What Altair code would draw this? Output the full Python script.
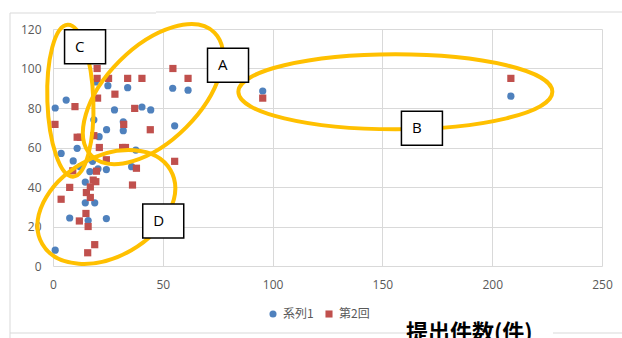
import altair as alt
import pandas as pd

# ---- data ----
series_names = ["系列1", "第2回"]

s1_x = [1, 6, 25, 34, 28, 40.5, 44.5, 54.5, 61.5, 55.4,
        32, 32, 24.4, 21, 18.6, 19.3, 11, 3.7, 37.7, 9.2,
        12.3, 16.7, 18, 16.8, 20.5, 24.3, 35.8, 14.7, 14.7, 19,
        7.6, 16, 24.3, 1, 95.5, 208.5]
s1_y = [80, 84, 91.3, 90.3, 79, 80.5, 79, 90, 89, 71,
        73, 68.5, 69, 65.5, 74, 93.2, 59.6, 57, 58.7, 53.2,
        50.3, 54.3, 53, 47.8, 49.2, 48.8, 50.3, 42.5, 32, 32,
        24.3, 23, 24, 8, 88.6, 86]

s2_x = [20.1, 20.1, 25.3, 34, 40.5, 54.6, 61.5, 28.2, 20.3, 10,
        37.2, 0.9, 32.2, 44.3, 11, 12.5, 18.6, 21.1, 31.7, 33,
        24.3, 55.4, 9, 19.8, 38, 36.2, 7.6, 3.7, 18.3, 19.5,
        17, 15.2, 17, 15, 12, 16, 19, 15.8, 95.5, 208.5]
s2_y = [100, 95, 95, 95, 95, 100, 95, 87, 85, 80.7,
        79.8, 71.7, 71.7, 69, 65.2, 65.2, 66, 60, 60, 60,
        53.8, 53, 48.2, 48, 49.5, 41, 39.8, 33.8, 43.5, 42.7,
        40, 37.2, 34.7, 26.6, 22.8, 20, 10.8, 6.7, 85, 95]

x_ticks = [0, 50, 100, 150, 200, 250]
y_ticks = [0, 20, 40, 60, 80, 100, 120]

points = pd.DataFrame(
    [{"x": x, "y": y, "series": series_names[0]} for x, y in zip(s1_x, s1_y)]
    + [{"x": x, "y": y, "series": series_names[1]} for x, y in zip(s2_x, s2_y)]
)

# ---- annotation groups: ellipse centre (data units), semi-axes (px), rotation ----
groups = [
    {"label": "A", "cx": 45.5, "cy": 87.0, "a": 87, "b": 47, "angle": 315, "bx": 79.7, "by": 101.6},
    {"label": "B", "cx": 155.9, "cy": 88.2, "a": 157, "b": 37.5, "angle": 0, "bx": 168.0, "by": 69.7},
    {"label": "C", "cx": 7.9, "cy": 83.7, "a": 76, "b": 23, "angle": 88, "bx": 14.6, "by": 111.0},
    {"label": "D", "cx": 24.3, "cy": 29.9, "a": 74, "b": 50, "angle": 330, "bx": 50.2, "by": 22.8},
]

GRID = "#D9D9D9"
LABEL = "#595959"
GOLD = "#FFC000"
W, H = 549, 237
PAD = {"left": 53, "top": 29, "right": 20, "bottom": 72}

x_enc = alt.X("x:Q", scale=alt.Scale(domain=[0, 250], nice=False),
              axis=alt.Axis(values=x_ticks, title=None, domain=False, ticks=False,
                            tickSize=0, labelPadding=13, labelFlush=False, grid=True,
                            gridColor=GRID, labelColor=LABEL, labelFont="Open Sans",
                            labelFontSize=12))
y_enc = alt.Y("y:Q", scale=alt.Scale(domain=[0, 120], nice=False),
              axis=alt.Axis(values=y_ticks, title=None, domain=False, ticks=False,
                            tickSize=0, labelPadding=12, grid=True, gridColor=GRID,
                            labelColor=LABEL, labelFont="Open Sans", labelFontSize=12))

legend = alt.Legend(orient="none", legendX=214, legendY=279, direction="horizontal",
                    title=None, padding=0, symbolSize=50, symbolStrokeWidth=0,
                    labelFont="Noto Sans CJK JP", labelFontSize=12, labelColor=LABEL,
                    columnPadding=9, labelOffset=4)

scatter = alt.Chart(points).mark_point(filled=True, opacity=1, size=52).encode(
    x=x_enc, y=y_enc,
    color=alt.Color("series:N", scale=alt.Scale(domain=series_names,
                                               range=["#4F81BD", "#C0504D"]), legend=legend),
    shape=alt.Shape("series:N", scale=alt.Scale(domain=series_names,
                                               range=["circle", "square"]), legend=legend),
)

K = 0.5523


def ellipse_path(r):
    return (f"M 1 0 C 1 {K*r:.4f} {K:.4f} {r:.4f} 0 {r:.4f} "
            f"C {-K:.4f} {r:.4f} -1 {K*r:.4f} -1 0 "
            f"C -1 {-K*r:.4f} {-K:.4f} {-r:.4f} 0 {-r:.4f} "
            f"C {K:.4f} {-r:.4f} 1 {-K*r:.4f} 1 0 Z")


BOX_PATH = "M -1 -0.83 L 1 -0.83 L 1 0.83 L -1 0.83 Z"

layers = [scatter]
for g in groups:
    df = pd.DataFrame([{"x": g["cx"], "y": g["cy"]}])
    layers.append(
        alt.Chart(df).mark_point(shape=ellipse_path(g["b"] / g["a"]), size=(2 * g["a"]) ** 2,
                                 angle=g["angle"], filled=False, opacity=1,
                                 stroke=GOLD, strokeWidth=4).encode(x=x_enc, y=y_enc)
    )

boxes = pd.DataFrame([{"x": g["bx"], "y": g["by"], "label": g["label"]} for g in groups])
layers.append(
    alt.Chart(boxes).mark_point(shape=BOX_PATH, size=41 ** 2, filled=True, fill="white",
                                stroke="black", strokeWidth=1.5, opacity=1)
    .encode(x=x_enc, y=y_enc)
)
layers.append(
    alt.Chart(boxes).mark_text(align="left", baseline="alphabetic", dx=-10, dy=5,
                               font="Open Sans", fontSize=15, color="black")
    .encode(x=x_enc, y=y_enc, text="label:N")
)

# chart-area border (light grey) with a gap behind the axis title
one_row = pd.DataFrame({"k": [0]})
rule = alt.Chart(one_row).mark_rule(color=GRID, strokeWidth=1)
borders = [
    rule.encode(x=alt.value(-43), x2=alt.value(-43), y=alt.value(-16), y2=alt.value(309)),
    rule.encode(x=alt.value(-43), x2=alt.value(103), y=alt.value(-16), y2=alt.value(-16)),
    rule.encode(x=alt.value(103), x2=alt.value(569), y=alt.value(-17), y2=alt.value(-17)),
    rule.encode(x=alt.value(-43), x2=alt.value(353), y=alt.value(304), y2=alt.value(304)),
    rule.encode(x=alt.value(500), x2=alt.value(569), y=alt.value(304), y2=alt.value(304)),
]
layers.extend(borders)

title = alt.Chart(one_row).mark_text(
    align="left", baseline="alphabetic", font="Noto Sans CJK JP", fontSize=22,
    fontWeight="bold", color="black"
).encode(x=alt.value(353), y=alt.value(311), text=alt.value("提出件数(件)"))
layers.append(title)

chart = alt.layer(*layers).properties(
    width=W, height=H, padding=PAD, autosize=alt.AutoSizeParams(type="none"),
    background="white",
).configure_view(stroke=None)

chart.save("out.html", embed_options={"renderer": "svg", "actions": False})
